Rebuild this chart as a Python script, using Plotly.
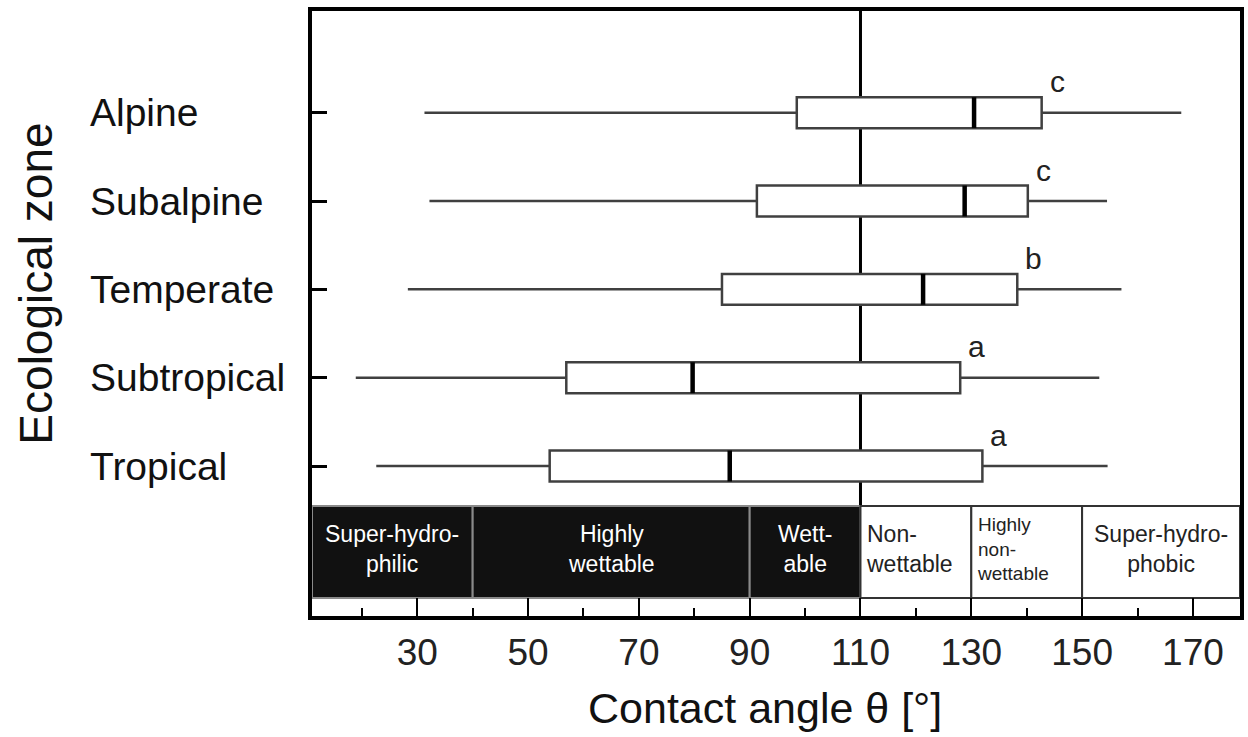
import plotly.graph_objects as go

# ---- data ----
zones = ["Tropical", "Subtropical", "Temperate", "Subalpine", "Alpine"]
positions = [1, 2, 3, 4, 5]
whisker_min = [22.6, 18.9, 28.3, 32.2, 31.3]
q1_vals = [53.9, 56.9, 85.0, 91.3, 98.5]
median_vals = [86.4, 79.7, 121.3, 128.8, 130.5]
q3_vals = [132.0, 128.0, 138.3, 140.2, 142.7]
whisker_max = [154.6, 153.1, 157.1, 154.5, 167.9]
group_letters = ["a", "a", "b", "c", "c"]

x_ticks = [30, 50, 70, 90, 110, 130, 150, 170]
x_minor = [20, 40, 60, 80, 100, 120, 140, 160]

X_MIN, X_MAX = 11.0, 178.5
Y_MIN, Y_MAX = -0.698, 6.151
BAND_LO, BAND_HI = -0.494, 0.547
band_edges = [X_MIN, 40, 90, 110, 130, 150, X_MAX]
band_labels = ["Super-hydro-<br>philic", "Highly<br>wettable", "Wett-<br>able",
               "Non-<br>wettable", "Highly<br>non-<br>wettable", "Super-hydro-<br>phobic"]
band_dark = [True, True, True, False, False, False]
wet_threshold = 110

FONT = "Liberation Sans, Arial, Helvetica, sans-serif"
BOX_W = 0.35

fig = go.Figure()

fig.add_trace(go.Box(
    y=positions, q1=q1_vals, median=median_vals, q3=q3_vals,
    lowerfence=whisker_min, upperfence=whisker_max,
    orientation="h", width=BOX_W, whiskerwidth=0,
    fillcolor="white", line=dict(color="#404040", width=2.5),
    boxpoints=False, showlegend=False, hoverinfo="skip",
))

# thick median lines
mx, my = [], []
for p, m in zip(positions, median_vals):
    mx += [m, m, None]
    my += [p - BOX_W / 2, p + BOX_W / 2, None]
fig.add_trace(go.Scatter(x=mx, y=my, mode="lines",
                         line=dict(color="black", width=4.5),
                         showlegend=False, hoverinfo="skip"))

shapes = []
# vertical line at wetting threshold
shapes.append(dict(type="line", xref="x", yref="y", x0=wet_threshold, x1=wet_threshold,
                   y0=BAND_HI, y1=Y_MAX, line=dict(color="black", width=3), layer="below"))
# wettability band
for i in range(len(band_labels)):
    dark = band_dark[i]
    shapes.append(dict(type="rect", xref="x", yref="y",
                       x0=band_edges[i], x1=band_edges[i + 1], y0=BAND_LO, y1=BAND_HI,
                       fillcolor="#111111" if dark else "white",
                       line=dict(color="#8a8a8a" if dark else "#333333", width=2),
                       layer="below"))

annotations = []
for i, lab in enumerate(band_labels):
    dark = band_dark[i]
    left_aligned = lab.startswith("Non") or lab.startswith("Highly<br>non")
    if left_aligned:
        xa, anchor = band_edges[i] + 0.6, "left"
    else:
        xa, anchor = (band_edges[i] + band_edges[i + 1]) / 2, "center"
    size = 19 if "non-<br>" in lab else 23
    annotations.append(dict(x=xa, y=(BAND_LO + BAND_HI) / 2 + 0.03, xref="x", yref="y",
                            text=lab, showarrow=False, xanchor=anchor, yanchor="middle",
                            align=anchor,
                            font=dict(family=FONT, size=size,
                                      color="white" if dark else "#222222")))

# significance letters
for p, q3, letter in zip(positions, q3_vals, group_letters):
    annotations.append(dict(x=q3, y=p, xref="x", yref="y", text=letter, showarrow=False,
                            xshift=16, yshift=31, font=dict(family=FONT, size=30, color="#222222")))

# y category labels (left aligned)
for p, z in zip(positions, zones):
    annotations.append(dict(x=-0.241, y=p, xref="paper", yref="y", text=z, showarrow=False,
                            xanchor="left", yanchor="middle",
                            font=dict(family=FONT, size=39, color="#111111")))

# axis titles
annotations.append(dict(x=-0.297, y=0.55, xref="paper", yref="paper", text="Ecological zone",
                        textangle=-90, showarrow=False, xanchor="center", yanchor="middle",
                        font=dict(family=FONT, size=46, color="#111111")))
annotations.append(dict(x=0.488, y=-0.152, xref="paper", yref="paper",
                        text="Contact angle θ [°]", showarrow=False,
                        xanchor="center", yanchor="middle",
                        font=dict(family=FONT, size=43, color="#111111")))

fig.update_layout(
    width=1248, height=737,
    margin=dict(l=312, r=4, t=11, b=121),
    paper_bgcolor="white", plot_bgcolor="white",
    shapes=shapes, annotations=annotations,
    font=dict(family=FONT, color="#222222"),
    xaxis=dict(range=[X_MIN, X_MAX], tickvals=x_ticks, ticktext=[str(v) for v in x_ticks],
               ticks="inside", ticklen=18, tickwidth=2, tickcolor="black",
               minor=dict(tickvals=x_minor, ticks="inside", ticklen=8, tickwidth=2,
                          tickcolor="black", showgrid=False),
               showline=True, linewidth=4, linecolor="black", mirror=True,
               showgrid=False, zeroline=False,
               tickfont=dict(family=FONT, size=37, color="#222222"),
               ticklabelstandoff=1),
    yaxis=dict(range=[Y_MIN, Y_MAX], tickvals=positions, showticklabels=False,
               ticks="inside", ticklen=15, tickwidth=3, tickcolor="black",
               showline=True, linewidth=4, linecolor="black", mirror=True,
               showgrid=False, zeroline=False),
)

fig.write_html("out.html")
